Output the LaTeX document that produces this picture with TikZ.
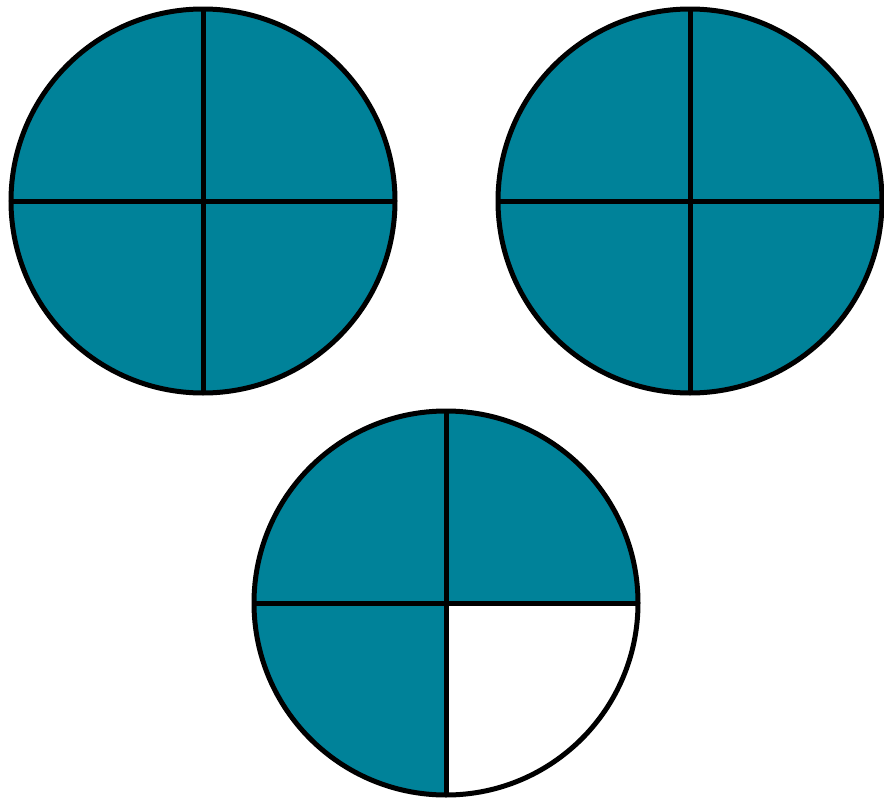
\documentclass[tikz,border=0pt]{standalone}
\usetikzlibrary{calc}
\definecolor{quarterfill}{RGB}{0,130,153}

\begin{document}
\begin{tikzpicture}[x=1pt, y=-1pt, line width=5pt,
  quarter/.style={fill=quarterfill}]
  \useasboundingbox (0,0) rectangle (884,798);
  \coordinate (C1) at (203,201);
  \coordinate (C2) at (690,201);
  \coordinate (C3) at (446,603);
  % full circles
  \foreach \c in {C1, C2} {
    \fill[quarter] (\c) circle (192);
    \draw ($(\c)+(-192,0)$) -- ($(\c)+(192,0)$);
    \draw ($(\c)+(0,-192)$) -- ($(\c)+(0,192)$);
    \draw (\c) circle (192);
  }
  % three quarters
  \fill[quarter] (C3) -- ++(192,0) arc (0:-270:192) -- cycle;
  \draw ($(C3)+(-192,0)$) -- ($(C3)+(192,0)$);
  \draw ($(C3)+(0,-192)$) -- ($(C3)+(0,192)$);
  \draw (C3) circle (192);
\end{tikzpicture}
\end{document}
